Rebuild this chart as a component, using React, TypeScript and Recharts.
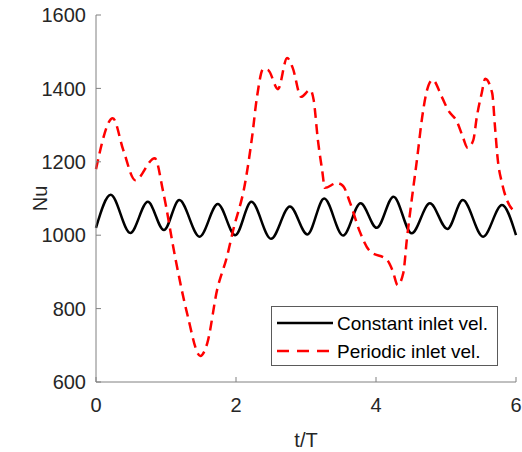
import React from 'react';
import { LineChart, Line, XAxis, YAxis, Legend, Label } from 'recharts';

// constant inlet velocity: Nu vs t/T (peaks and troughs)
const constantT = [0, 0.21, 0.49, 0.74, 0.97, 1.19, 1.48, 1.74, 1.99, 2.22, 2.5, 2.77, 3.02, 3.26, 3.53, 3.78, 4.01, 4.25, 4.51, 4.77, 5.02, 5.24, 5.53, 5.8, 6];
const constantNu = [1020, 1110, 1006, 1091, 1014, 1096, 996, 1085, 1000, 1091, 990, 1078, 1002, 1100, 999, 1087, 1020, 1105, 1005, 1087, 1017, 1096, 996, 1082, 1000];

// periodic inlet velocity
const periodicT = [0, 0.24, 0.39, 0.56, 0.84, 0.96, 1.13, 1.3, 1.49, 1.59, 1.73, 1.87, 1.96, 2.13, 2.23, 2.3, 2.39, 2.46, 2.6, 2.73, 2.81, 2.93, 3.06, 3.11, 3.17, 3.23, 3.27, 3.44, 3.53, 3.63, 3.77, 3.91, 4.16, 4.24, 4.31, 4.39, 4.44, 4.51, 4.59, 4.66, 4.73, 4.81, 4.94, 5.03, 5.16, 5.24, 5.31, 5.39, 5.44, 5.51, 5.56, 5.66, 5.7, 5.74, 5.8, 5.87, 6];
const periodicNu = [1180, 1319, 1232, 1150, 1210, 1118, 941, 788, 671, 706, 851, 941, 1014, 1142, 1268, 1377, 1453, 1450, 1398, 1483, 1456, 1377, 1396, 1368, 1259, 1178, 1129, 1142, 1134, 1088, 1009, 957, 932, 902, 864, 897, 987, 1096, 1213, 1322, 1396, 1423, 1377, 1341, 1308, 1268, 1238, 1259, 1322, 1387, 1426, 1387, 1295, 1205, 1142, 1096, 1063];

const xTicks = [0, 2, 4, 6];
const yTicks = [600, 800, 1000, 1200, 1400, 1600];

const constantData = constantT.map((t, i) => ({ t, nu: constantNu[i] }));
const periodicData = periodicT.map((t, i) => ({ t, nu: periodicNu[i] }));

const axisColor = '#808080';
const textColor = '#262626';
const font = '"Liberation Sans", Arial, sans-serif';

const LegendBox = () => (
  <div style={{ width: 225, height: 58, border: '1px solid #5a5a5a', background: '#fff', boxSizing: 'content-box' }}>
    <svg width={225} height={58} style={{ display: 'block' }}>
      <line x1={5} x2={61} y1={16} y2={16} stroke="#000" strokeWidth={2.5} />
      <text x={65} y={22.5} fontSize={19} fill="#000" fontFamily={font}>Constant inlet vel.</text>
      <line x1={5} x2={61} y1={44} y2={44} stroke="#ff0000" strokeWidth={2.5} strokeDasharray="12 8" />
      <text x={65} y={50.5} fontSize={19} fill="#000" fontFamily={font}>Periodic inlet vel.</text>
    </svg>
  </div>
);

export default function App() {
  return (
    <div style={{ position: 'absolute', left: 0, top: 0, background: '#fff' }}>
      <LineChart
        width={522}
        height={452}
        margin={{ top: 15, right: 6, bottom: 0, left: 0 }}
        style={{ fontFamily: font }}
      >
        <XAxis
          xAxisId="b"
          type="number"
          dataKey="t"
          domain={[0, 6]}
          ticks={xTicks}
          height={70}
          stroke={axisColor}
          tickSize={-5}
          tickMargin={21}
          tick={{ fill: textColor, fontSize: 20 }}
        >
          <Label value="t/T" position="insideBottom" offset={5} fill={textColor} fontSize={20} />
        </XAxis>
        <XAxis
          xAxisId="top"
          orientation="top"
          type="number"
          dataKey="t"
          domain={[0, 6]}
          ticks={xTicks}
          height={0}
          stroke={axisColor}
          tickSize={-5}
          tick={false}
        />
        <YAxis
          yAxisId="l"
          type="number"
          domain={[600, 1600]}
          ticks={yTicks}
          width={96}
          stroke={axisColor}
          tickSize={-5}
          tickMargin={15}
          tick={{ fill: textColor, fontSize: 20 }}
        >
          <Label value="Nu" angle={-90} position="center" dx={-8} fill={textColor} fontSize={20} />
        </YAxis>
        <YAxis
          yAxisId="r"
          orientation="right"
          type="number"
          domain={[600, 1600]}
          ticks={yTicks}
          width={0}
          stroke={axisColor}
          tickSize={-5}
          tick={false}
        />
        <Line
          xAxisId="b"
          yAxisId="l"
          data={constantData}
          dataKey="nu"
          type="monotone"
          stroke="#000000"
          strokeWidth={2.5}
          dot={false}
          isAnimationActive={false}
        />
        <Line
          xAxisId="b"
          yAxisId="l"
          data={periodicData}
          dataKey="nu"
          type="monotone"
          stroke="#ff0000"
          strokeWidth={2.5}
          strokeDasharray="10 6"
          dot={false}
          isAnimationActive={false}
        />
        <Legend
          layout="horizontal"
          verticalAlign="middle"
          align="center"
          content={() => <LegendBox />}
          wrapperStyle={{ position: 'absolute', left: 271, top: 306, width: 'auto', height: 'auto' }}
        />
      </LineChart>
    </div>
  );
}
